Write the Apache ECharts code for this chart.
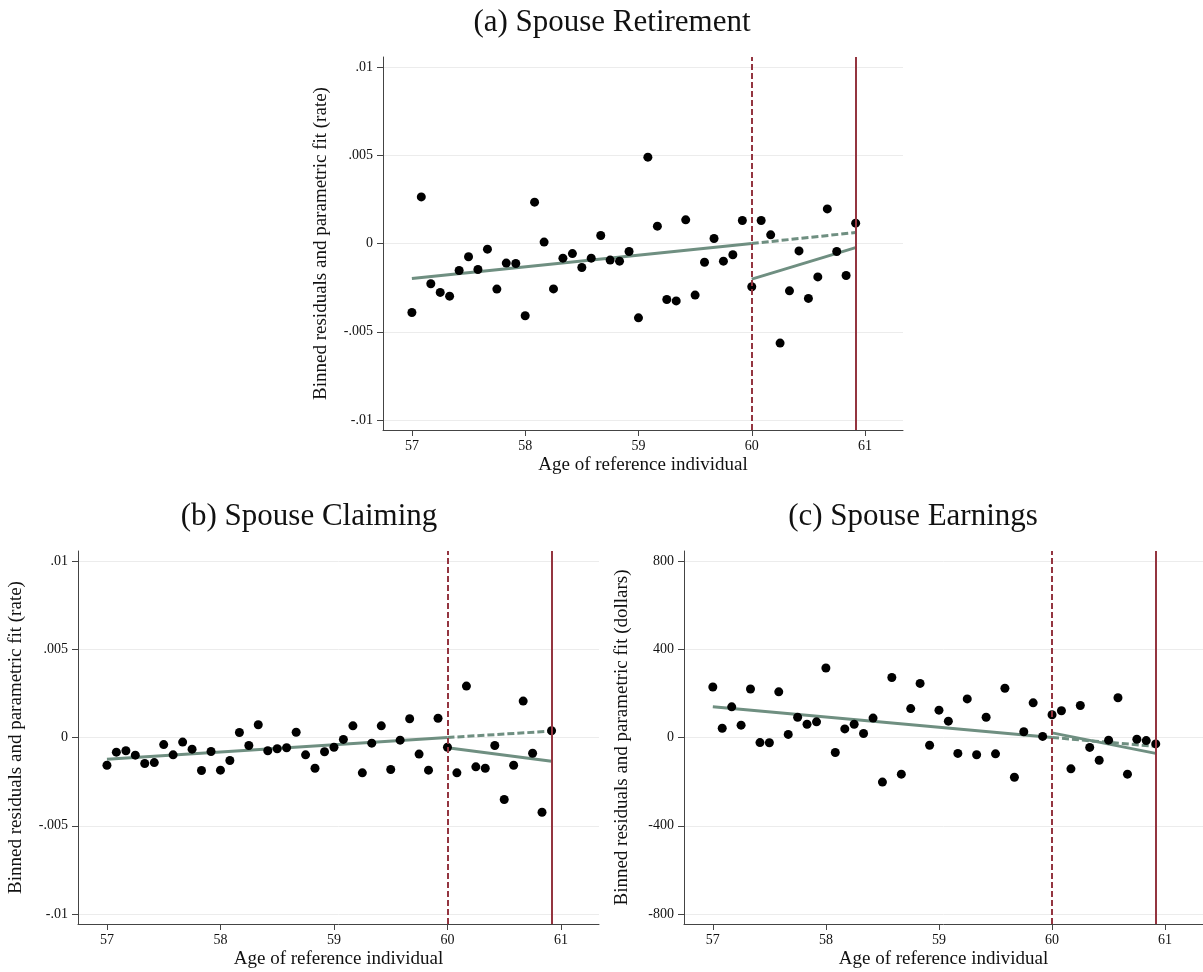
<!DOCTYPE html>
<html>
<head>
<meta charset="utf-8">
<script src="https://cdn.jsdelivr.net/npm/echarts@6/dist/echarts.min.js"></script>
<style>
html,body{margin:0;padding:0;background:#fff;}
#chart{width:1203px;height:972px;}
</style>
</head>
<body>
<div id="chart"></div>
<script>
// ---- Data ----
const ages = [57.000,57.083,57.167,57.250,57.333,57.417,57.500,57.583,57.667,57.750,57.833,57.917,
              58.000,58.083,58.167,58.250,58.333,58.417,58.500,58.583,58.667,58.750,58.833,58.917,
              59.000,59.083,59.167,59.250,59.333,59.417,59.500,59.583,59.667,59.750,59.833,59.917,
              60.000,60.083,60.167,60.250,60.333,60.417,60.500,60.583,60.667,60.750,60.833,60.917];

const retirement = [-0.00391,0.00264,-0.00228,-0.00277,-0.00298,-0.00153,-0.00075,-0.00147,-0.00032,-0.00258,-0.00111,-0.00113,
                    -0.00409,0.00234,0.00008,-0.00257,-0.00083,-0.00057,-0.00136,-0.00083,0.00045,-0.00094,-0.00100,-0.00045,
                    -0.00421,0.00489,0.00098,-0.00317,-0.00325,0.00134,-0.00292,-0.00106,0.00028,-0.00100,-0.00064,0.00130,
                    -0.00245,0.00130,0.00049,-0.00564,-0.00268,-0.00042,-0.00311,-0.00189,0.00196,-0.00045,-0.00181,0.00115];

const claiming = [-0.00157,-0.00083,-0.00075,-0.00100,-0.00147,-0.00142,-0.00040,-0.00098,-0.00026,-0.00066,-0.00187,-0.00079,
                  -0.00185,-0.00130,0.00028,-0.00045,0.00072,-0.00075,-0.00064,-0.00058,0.00030,-0.00098,-0.00174,-0.00081,
                  -0.00055,-0.00011,0.00066,-0.00200,-0.00032,0.00066,-0.00181,-0.00015,0.00106,-0.00094,-0.00185,0.00109,
                  -0.00055,-0.00200,0.00291,-0.00166,-0.00174,-0.00045,-0.00351,-0.00157,0.00206,-0.00089,-0.00423,0.00038];

const earnings = [229,42,139,56,220,-23,-24,207,14,92,60,71,
                  315,-68,39,60,18,88,-202,272,-166,131,245,-35,
                  124,74,-72,175,-78,92,-74,223,-180,26,157,5,
                  103,121,-142,145,-45,-103,-12,180,-166,-8,-14,-29];

// fitted lines: [age, value] endpoints
const retFitPre  = [[57, -0.00198], [60, 0.00000]];
const retFitExt  = [[60, 0.00000], [60.917, 0.00062]];
const retFitPost = [[60, -0.00202], [60.917, -0.00023]];

const clmFitPre  = [[57, -0.00123], [60, 0.00000]];
const clmFitExt  = [[60, 0.00000], [60.917, 0.00036]];
const clmFitPost = [[60, -0.00058], [60.917, -0.00134]];

const ernFitPre  = [[57, 139], [60, 0]];
const ernFitExt  = [[60, 0], [60.917, -40]];
const ernFitPost = [[60, 21], [60.917, -72]];

const cutoffDashed = 60;
const cutoffSolid = 60.917;

const xTicks = [57, 58, 59, 60, 61];
const xTickLabels = ['57', '58', '59', '60', '61'];
const rateTicks = [-0.01, -0.005, 0, 0.005, 0.01];
const rateTickLabels = ['-.01', '-.005', '0', '.005', '.01'];
const dollarTicks = [-800, -400, 0, 400, 800];
const dollarTickLabels = ['-800', '-400', '0', '400', '800'];

const titles = ['(a) Spouse Retirement', '(b) Spouse Claiming', '(c) Spouse Earnings'];
const xName = 'Age of reference individual';
const yNameRate = 'Binned residuals and parametric fit (rate)';
const yNameDollar = 'Binned residuals and parametric fit (dollars)';

// ---- Styling ----
const FONT = '"Liberation Serif", "Times New Roman", serif';
const FIT = '#6f8f81';
const RED = '#943540';
const AXIS = '#444';

function labelFor(ticks, labels) {
  return function (v) {
    for (let i = 0; i < ticks.length; i++) if (Math.abs(ticks[i] - v) < 1e-9 * Math.max(1, Math.abs(v)) + 1e-9) return labels[i];
    return '';
  };
}

function xAxisCfg(gi) {
  return {
    type: 'value', gridIndex: gi, min: 56.745, max: 61.335,
    name: xName, nameLocation: 'middle', nameGap: 26,
    nameTextStyle: { fontFamily: FONT, fontSize: 19, color: '#111' },
    axisLine: { show: true, onZero: false, lineStyle: { color: AXIS, width: 1 } },
    axisTick: { show: true, length: 6, lineStyle: { color: AXIS }, customValues: xTicks },
    axisLabel: { customValues: xTicks, formatter: labelFor(xTicks, xTickLabels), fontFamily: FONT, fontSize: 14, color: '#111', margin: 9 },
    splitLine: { show: false }
  };
}
function yAxisCfg(gi, min, max, ticks, labels, name) {
  return {
    type: 'value', gridIndex: gi, min: min, max: max,
    name: name, nameLocation: 'middle', nameGap: 52,
    nameTextStyle: { fontFamily: FONT, fontSize: 19, color: '#111' },
    axisLine: { show: true, onZero: false, lineStyle: { color: AXIS, width: 1 } },
    axisTick: { show: true, length: 6, lineStyle: { color: AXIS }, customValues: ticks },
    axisLabel: { customValues: ticks, formatter: labelFor(ticks, labels), fontFamily: FONT, fontSize: 14, color: '#111', margin: 10 },
    splitLine: { show: true, lineStyle: { color: '#ececec', width: 1 } }
  };
}

function panelSeries(gi, pts, pre, ext, post) {
  return [
    {
      type: 'line', xAxisIndex: gi, yAxisIndex: gi, data: [], silent: true, z: 1,
      markLine: {
        silent: true, symbol: ['none', 'none'], label: { show: false },
        data: [
          { xAxis: cutoffDashed, lineStyle: { color: RED, width: 2, type: [6, 3] } },
          { xAxis: cutoffSolid, lineStyle: { color: RED, width: 2, type: 'solid' } }
        ]
      }
    },
    { type: 'line', xAxisIndex: gi, yAxisIndex: gi, data: pre, showSymbol: false, symbol: 'none', lineStyle: { color: FIT, width: 3 }, z: 3, animation: false },
    { type: 'line', xAxisIndex: gi, yAxisIndex: gi, data: ext, showSymbol: false, symbol: 'none', lineStyle: { color: FIT, width: 3, type: [7, 3] }, z: 3, animation: false },
    { type: 'line', xAxisIndex: gi, yAxisIndex: gi, data: post, showSymbol: false, symbol: 'none', lineStyle: { color: FIT, width: 3 }, z: 3, animation: false },
    { type: 'scatter', xAxisIndex: gi, yAxisIndex: gi, data: ages.map((a, i) => [a, pts[i]]), symbolSize: 9, itemStyle: { color: '#000', opacity: 1 }, z: 4, animation: false }
  ];
}

const chart = echarts.init(document.getElementById('chart'), null, { renderer: 'canvas' });
chart.setOption({
  animation: false,
  backgroundColor: '#fff',
  title: [
    { text: titles[0], left: 607, top: 2, textAlign: 'center', textStyle: { fontFamily: FONT, fontSize: 31, fontWeight: 'normal', color: '#111' } },
    { text: titles[1], left: 304, top: 496, textAlign: 'center', textStyle: { fontFamily: FONT, fontSize: 31, fontWeight: 'normal', color: '#111' } },
    { text: titles[2], left: 908, top: 496, textAlign: 'center', textStyle: { fontFamily: FONT, fontSize: 31, fontWeight: 'normal', color: '#111' } }
  ],
  grid: [
    { left: 383, top: 57, width: 520, height: 373 },
    { left: 78, top: 551, width: 521, height: 373 },
    { left: 684, top: 551, width: 519, height: 373 }
  ],
  xAxis: [xAxisCfg(0), xAxisCfg(1), xAxisCfg(2)],
  yAxis: [
    yAxisCfg(0, -0.01056, 0.01056, rateTicks, rateTickLabels, yNameRate),
    yAxisCfg(1, -0.01056, 0.01056, rateTicks, rateTickLabels, yNameRate),
    yAxisCfg(2, -845, 845, dollarTicks, dollarTickLabels, yNameDollar)
  ],
  series: [].concat(
    panelSeries(0, retirement, retFitPre, retFitExt, retFitPost),
    panelSeries(1, claiming, clmFitPre, clmFitExt, clmFitPost),
    panelSeries(2, earnings, ernFitPre, ernFitExt, ernFitPost)
  )
});
</script>
</body>
</html>
